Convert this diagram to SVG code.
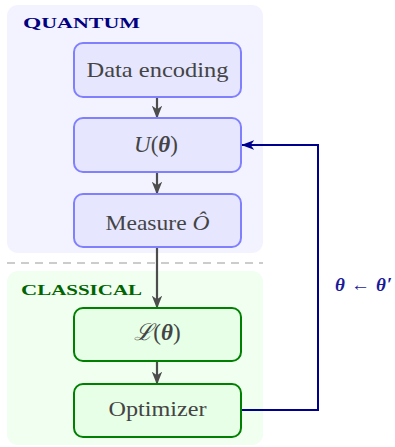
<svg xmlns="http://www.w3.org/2000/svg" width="395" height="447" viewBox="0 0 395 447">
  <defs>
    <style>
      .qpanel { fill: #f3f3ff; }
      .cpanel { fill: #f0fff0; }
      .qbox { fill: #e6e6ff; stroke: #8080ff; stroke-width: 2; }
      .cbox { fill: #e6ffe6; stroke: #008000; stroke-width: 2; }
      .lbl { font-family: "Liberation Serif", "DejaVu Serif", serif; font-size: 22px; fill: #444; text-anchor: middle; }
      .math { font-size: 23px; }
      .title { font-family: "Liberation Serif", "DejaVu Serif", serif; font-weight: bold; }
      .flow { fill: none; stroke: #4d4d4d; stroke-width: 2.2; marker-end: url(#headGray); }
      .loop { fill: none; stroke: #00008f; stroke-width: 2; marker-end: url(#headBlue); }
    </style>
    <marker id="headGray" viewBox="0 0 10 10" refX="9.5" refY="5" markerWidth="13" markerHeight="13" markerUnits="userSpaceOnUse" orient="auto">
      <path d="M0,1 L10,5 L0,9 L2.8,5 Z" fill="#4d4d4d"/>
    </marker>
    <marker id="headBlue" viewBox="0 0 10 10" refX="9.5" refY="5" markerWidth="13" markerHeight="13" markerUnits="userSpaceOnUse" orient="auto">
      <path d="M0,1.2 L10,5 L0,8.8 L2.8,5 Z" fill="#00008f"/>
    </marker>
  </defs>

  <!-- panels -->
  <rect class="qpanel" x="7" y="5" width="256" height="248" rx="11"/>
  <rect class="cpanel" x="7" y="271" width="256" height="174" rx="11"/>
  <line x1="7" y1="263" x2="263" y2="263" stroke="#cccccc" stroke-width="2" stroke-dasharray="8 6"/>

  <text class="title" x="23" y="28" fill="#000080" font-size="14" textLength="117" lengthAdjust="spacingAndGlyphs"><tspan font-size="15">Q</tspan>UANTUM</text>
  <text class="title" x="21" y="295" fill="#006400" font-size="14" textLength="121" lengthAdjust="spacingAndGlyphs"><tspan font-size="15">C</tspan>LASSICAL</text>

  <!-- connectors -->
  <g id="connectors">
    <line class="flow" x1="157" y1="97" x2="157" y2="118"/>
    <line class="flow" x1="157" y1="172" x2="157" y2="194"/>
    <line class="flow" x1="157" y1="247" x2="157" y2="308"/>
    <line class="flow" x1="157" y1="361" x2="157" y2="384"/>
    <polyline class="loop" points="242,410 318,410 318,145 242,145"/>
    <text x="335" y="291" font-family="Liberation Serif, DejaVu Serif, serif" font-size="19" font-weight="bold" font-style="italic" fill="#1a1a99" textLength="57" lengthAdjust="spacing">θ ← θ′</text>
  </g>

  <!-- nodes -->
  <g id="data-encoding">
    <rect class="qbox" x="74" y="43" width="167" height="54" rx="9"/>
    <text class="lbl" x="157.5" y="77" textLength="142" lengthAdjust="spacingAndGlyphs">Data encoding</text>
  </g>
  <g id="unitary">
    <rect class="qbox" x="74" y="118" width="167" height="54" rx="9"/>
    <text class="lbl math" x="156" y="152"><tspan font-style="italic">U</tspan>(<tspan font-weight="bold" font-style="italic">θ</tspan>)</text>
  </g>
  <g id="measure">
    <rect class="qbox" x="74" y="194" width="167" height="53" rx="9"/>
    <text class="lbl" x="157.5" y="230" textLength="104" lengthAdjust="spacingAndGlyphs">Measure <tspan font-style="italic">Ô</tspan></text>
  </g>
  <g id="loss">
    <rect class="cbox" x="74" y="308" width="167" height="53" rx="9"/>
    <text class="lbl math" x="157.5" y="340"><tspan font-style="italic">ℒ</tspan>(<tspan font-weight="bold" font-style="italic">θ</tspan>)</text>
  </g>
  <g id="optimizer">
    <rect class="cbox" x="74" y="384" width="167" height="53" rx="9"/>
    <text class="lbl" x="157.5" y="416" textLength="98" lengthAdjust="spacingAndGlyphs">Optimizer</text>
  </g>
</svg>
